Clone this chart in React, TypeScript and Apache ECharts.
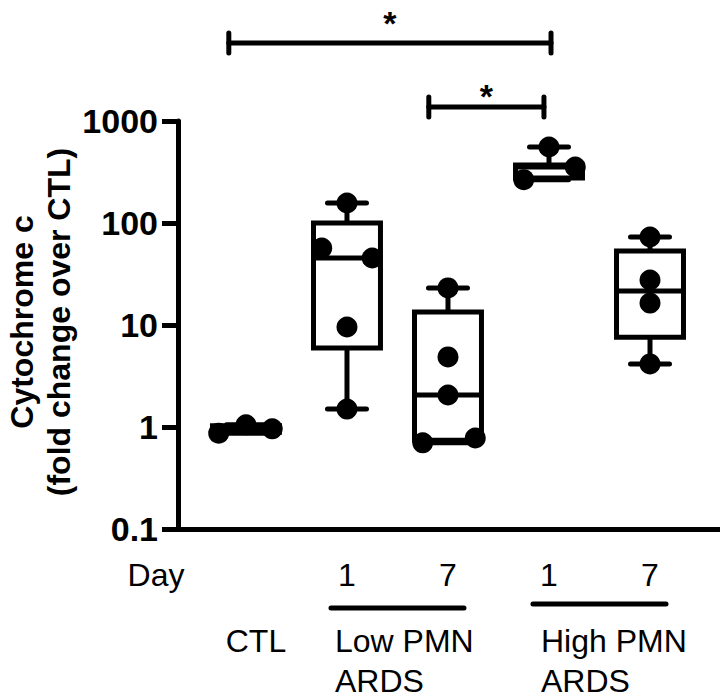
import React, { useEffect, useRef } from "react";
import * as echarts from "echarts";

// ---- data ----
const groupNames = ["CTL", "Low PMN\nARDS", "High PMN\nARDS"];
const dayLabels = ["", "1", "7", "1", "7"];
const yTickLabels = ["0.1", "1", "10", "100", "1000"];

// box summaries per group (CTL, Low d1, Low d7, High d1, High d7)
const boxMin = [0.87, 1.5, 0.7, 266, 4.15];
const boxQ1 = [0.89, 5.95, 0.74, 276, 7.6];
const boxMedian = [0.96, 45.4, 2.06, 354, 21.5];
const boxQ3 = [1.03, 100, 13.4, 370, 53];
const boxMax = [1.05, 157, 23.1, 556, 72.9];

// individual points: [group position + jitter, value]
const pointsCTL = [[-0.27, 0.87], [0, 1.05], [0.26, 0.96]];
const pointsLowD1 = [[1, 157], [0.75, 56.9], [1.25, 45.4], [1, 9.56], [1, 1.5]];
const pointsLowD7 = [[2, 23.1], [2, 4.86], [2, 2.06], [1.75, 0.7], [2.27, 0.78]];
const pointsHighD1 = [[3, 556], [3.26, 354], [2.75, 266]];
const pointsHighD7 = [[4, 72.9], [4, 27.6], [4, 16.4], [4, 4.15]];

// significance brackets (x in group units)
const bracketStart = [-0.17, 1.81];
const bracketEnd = [3.02, 2.95];
const bracketText = ["*", "*"];

const FONT = "'Liberation Sans', Arial, Helvetica, sans-serif";
const LW = 5;

export default function App() {
  const ref = useRef<HTMLDivElement>(null);

  useEffect(() => {
    if (!ref.current) return;
    const chart = echarts.init(ref.current, null, { renderer: "svg" });

    const boxData = boxMin.map((_, i) => [i, boxMin[i], boxQ1[i], boxMedian[i], boxQ3[i], boxMax[i]]);
    const allPoints = [...pointsCTL, ...pointsLowD1, ...pointsLowD7, ...pointsHighD1, ...pointsHighD7];

    const option: any = {
      animation: false,
      backgroundColor: "#ffffff",
      grid: { left: 178, top: 121, width: 542, height: 408, containLabel: false },
      xAxis: {
        type: "value",
        min: -0.673,
        max: 4.693,
        axisLine: { show: true, onZero: false, lineStyle: { color: "#000", width: LW } },
        axisTick: { show: false },
        axisLabel: { show: false },
        splitLine: { show: false },
      },
      yAxis: {
        type: "log",
        logBase: 10,
        min: 0.1,
        max: 1000,
        axisLine: { show: true, onZero: false, lineStyle: { color: "#000", width: LW } },
        axisTick: { show: true, length: 16, lineStyle: { color: "#000", width: LW } },
        minorTick: { show: false },
        axisLabel: {
          color: "#000",
          fontFamily: FONT,
          fontWeight: "bold",
          fontSize: 34,
          margin: 20,
          formatter: (v: number) => {
            const e = Math.round(Math.log10(v));
            return yTickLabels[e + 1] ?? String(v);
          },
        },
        splitLine: { show: false },
      },
      series: [
        {
          type: "custom",
          data: boxData,
          z: 2,
          renderItem: (params: any, api: any) => {
            const x = api.value(0);
            const unit = api.size([1, 0])[0];
            const halfBox = (0.663 * unit) / 2;
            const halfCap = (0.386 * unit) / 2;
            const [cx, yMin] = api.coord([x, api.value(1)]);
            const yQ1 = api.coord([x, api.value(2)])[1];
            const yMed = api.coord([x, api.value(3)])[1];
            const yQ3 = api.coord([x, api.value(4)])[1];
            const yMax = api.coord([x, api.value(5)])[1];
            const st = { stroke: "#000", lineWidth: LW, fill: null };
            return {
              type: "group",
              children: [
                { type: "line", shape: { x1: cx, y1: yQ1, x2: cx, y2: yMin }, style: st },
                { type: "line", shape: { x1: cx, y1: yQ3, x2: cx, y2: yMax }, style: st },
                { type: "line", shape: { x1: cx - halfCap, y1: yMin, x2: cx + halfCap, y2: yMin }, style: { ...st, lineCap: "round" } },
                { type: "line", shape: { x1: cx - halfCap, y1: yMax, x2: cx + halfCap, y2: yMax }, style: { ...st, lineCap: "round" } },
                {
                  type: "rect",
                  shape: { x: cx - halfBox, y: yQ3, width: halfBox * 2, height: yQ1 - yQ3 },
                  style: { stroke: "#000", lineWidth: LW, fill: "rgba(255,255,255,0)" },
                },
                { type: "line", shape: { x1: cx - halfBox, y1: yMed, x2: cx + halfBox, y2: yMed }, style: st },
              ],
            };
          },
        },
        {
          type: "scatter",
          data: allPoints,
          symbol: "circle",
          symbolSize: 21,
          itemStyle: { color: "#000", opacity: 1 },
          z: 3,
        },
      ],
    };

    chart.setOption(option);

    const px = (x: number) => (chart.convertToPixel({ gridIndex: 0 }, [x, 1]) as number[])[0];
    const textFont = `32px ${FONT}`;
    const g: any[] = [];
    const center = { textAlign: "center", textVerticalAlign: "middle", align: "center", verticalAlign: "middle" };

    // brackets
    const bracketY = [43, 107];
    const starDY = [-29, -20];
    bracketStart.forEach((s, i) => {
      const x1 = px(s);
      const x2 = px(bracketEnd[i]);
      const y = bracketY[i];
      const ls = { stroke: "#000", lineWidth: LW, lineCap: "round" };
      g.push({ type: "line", shape: { x1, y1: y, x2, y2: y }, style: ls });
      g.push({ type: "line", shape: { x1, y1: y - 10, x2: x1, y2: y + 10 }, style: ls });
      g.push({ type: "line", shape: { x1: x2, y1: y - 10, x2, y2: y + 10 }, style: ls });
      g.push({
        type: "text",
        x: (x1 + x2) / 2,
        y: y + starDY[i] + 9,
        style: { text: bracketText[i], font: `bold 34px ${FONT}`, fill: "#000", ...center },
      });
    });

    // Day row
    const dayY = 575;
    g.push({ type: "text", x: 156, y: dayY, style: { text: "Day", font: textFont, fill: "#000", ...center } });
    dayLabels.forEach((t, i) => {
      if (!t) return;
      g.push({ type: "text", x: px(i), y: dayY, style: { text: t, font: textFont, fill: "#000", ...center } });
    });

    // underlines
    const ul = [
      [1, 2, 608],
      [3, 4, 604],
    ];
    ul.forEach(([a, b, y]) => {
      g.push({
        type: "line",
        shape: { x1: px(a) - 16, y1: y, x2: px(b) + 16, y2: y },
        style: { stroke: "#000", lineWidth: LW, lineCap: "round" },
      });
    });

    // group names
    g.push({ type: "text", x: px(0) + 10, y: 641, style: { text: groupNames[0], font: textFont, fill: "#000", ...center } });
    [1, 3].forEach((gi, k) => {
      g.push({
        type: "text",
        x: px(gi) - (k === 0 ? 12 : 8),
        y: 621,
        style: {
          text: groupNames[k + 1],
          font: textFont,
          fill: "#000",
          lineHeight: 40,
          textAlign: "left",
          textVerticalAlign: "top",
          align: "left",
          verticalAlign: "top",
        },
      });
    });

    // y-axis title
    g.push({
      type: "text",
      x: 40,
      y: 322,
      rotation: Math.PI / 2,
      style: {
        text: "Cytochrome c\n(fold change over CTL)",
        font: `bold 32px ${FONT}`,
        fill: "#000",
        lineHeight: 37,
        ...center,
      },
    });

    chart.setOption({ graphic: g });

    return () => chart.dispose();
  }, []);

  return <div ref={ref} style={{ width: 720, height: 698, position: "absolute", left: 0, top: 0 }} />;
}
